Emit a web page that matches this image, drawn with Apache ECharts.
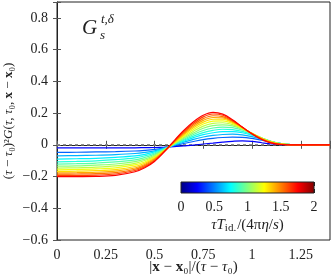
<!DOCTYPE html>
<html><head><meta charset="utf-8">
<script src="https://cdn.jsdelivr.net/npm/echarts@6/dist/echarts.min.js"></script>
<style>html,body{margin:0;padding:0;background:#fff}#c{width:332px;height:276px}</style>
</head><body><div id="c"></div>
<script>
// x positions |x-x0|/(tau-tau0)
const xs = [0, 0.1, 0.2, 0.3, 0.4, 0.45, 0.5, 0.55, 0.6, 0.65, 0.7, 0.75, 0.8, 0.85, 0.9, 0.95, 1.0, 1.05, 1.1, 1.15, 1.2, 1.4];
// tau T_id /(4 pi eta/s) for each curve
const params = [0.25, 0.45, 0.6, 0.72, 0.82, 0.92, 1.02, 1.12, 1.22, 1.32, 1.42, 1.52, 1.62, 1.75];
const curve0  = [-0.020,-0.020,-0.020,-0.019,-0.019,-0.018,-0.017,-0.015,-0.012,-0.007,-0.002,0.005,0.011,0.017,0.022,0.025,0.022,0.013,0.005,0.001,0,0];
const curve1  = [-0.048,-0.047,-0.045,-0.043,-0.039,-0.035,-0.029,-0.019,-0.006,0.008,0.021,0.033,0.041,0.046,0.048,0.047,0.040,0.029,0.016,0.006,0.001,0];
const curve2  = [-0.070,-0.068,-0.066,-0.062,-0.055,-0.048,-0.038,-0.022,-0.003,0.016,0.034,0.049,0.059,0.065,0.067,0.063,0.052,0.036,0.019,0.007,0.001,0];
const curve3  = [-0.090,-0.088,-0.085,-0.079,-0.070,-0.060,-0.045,-0.024,0.000,0.023,0.045,0.064,0.076,0.083,0.083,0.076,0.061,0.040,0.021,0.007,0.001,0];
const curve4  = [-0.107,-0.105,-0.101,-0.094,-0.083,-0.070,-0.052,-0.026,0.002,0.029,0.055,0.077,0.091,0.098,0.096,0.085,0.066,0.042,0.021,0.007,0.001,0];
const curve5  = [-0.122,-0.119,-0.115,-0.108,-0.095,-0.080,-0.059,-0.029,0.004,0.035,0.065,0.090,0.106,0.112,0.108,0.093,0.069,0.043,0.021,0.007,0.001,0];
const curve6  = [-0.135,-0.133,-0.128,-0.121,-0.106,-0.090,-0.066,-0.031,0.006,0.041,0.075,0.104,0.121,0.126,0.119,0.098,0.071,0.043,0.020,0.006,0.001,0];
const curve7  = [-0.147,-0.145,-0.141,-0.133,-0.117,-0.099,-0.073,-0.034,0.008,0.048,0.086,0.118,0.135,0.139,0.127,0.102,0.072,0.042,0.019,0.006,0.001,0];
const curve8  = [-0.158,-0.156,-0.152,-0.145,-0.127,-0.108,-0.079,-0.036,0.010,0.055,0.097,0.131,0.149,0.151,0.135,0.105,0.072,0.041,0.018,0.005,0.001,0];
const curve9  = [-0.168,-0.166,-0.163,-0.156,-0.137,-0.116,-0.085,-0.038,0.013,0.062,0.107,0.143,0.161,0.161,0.141,0.107,0.072,0.040,0.016,0.004,0.001,0];
const curve10 = [-0.177,-0.176,-0.173,-0.166,-0.146,-0.124,-0.090,-0.040,0.016,0.069,0.117,0.154,0.172,0.170,0.146,0.109,0.071,0.038,0.015,0.004,0,0];
const curve11 = [-0.185,-0.184,-0.182,-0.175,-0.154,-0.131,-0.095,-0.041,0.019,0.076,0.126,0.165,0.183,0.178,0.150,0.110,0.070,0.036,0.013,0.003,0,0];
const curve12 = [-0.193,-0.193,-0.191,-0.184,-0.162,-0.138,-0.100,-0.043,0.022,0.083,0.136,0.176,0.194,0.186,0.154,0.111,0.069,0.035,0.012,0.002,0,0];
const curve13 = [-0.200,-0.200,-0.199,-0.193,-0.170,-0.145,-0.105,-0.045,0.025,0.090,0.145,0.186,0.204,0.193,0.158,0.112,0.068,0.033,0.011,0.002,0,0];
const curves = [curve0,curve1,curve2,curve3,curve4,curve5,curve6,curve7,curve8,curve9,curve10,curve11,curve12,curve13];
const xTicks = [0, 0.25, 0.5, 0.75, 1, 1.25];
const yTicks = [-0.6, -0.4, -0.2, 0, 0.2, 0.4, 0.6, 0.8];
const cbTicks = [0, 0.5, 1, 1.5, 2];

function jet(t){
  const c = v => Math.max(0, Math.min(1, v));
  const r = c(1.5 - Math.abs(4*t - 3)), g = c(1.5 - Math.abs(4*t - 2)), b = c(1.5 - Math.abs(4*t - 1));
  return 'rgb(' + Math.round(r*255) + ',' + Math.round(g*255) + ',' + Math.round(b*255) + ')';
}
const FONT = 'Liberation Serif';
const near = (v, arr) => arr.some(t => Math.abs(t - v) < 1e-6);
const fmt = v => { const a = parseFloat(Math.abs(v).toFixed(2)); return (v < -1e-9 ? '\u2212' : '') + a; };

const chart = echarts.init(document.getElementById('c'), null, {renderer: 'canvas'});
const axisCol = '#222';
const tickStyle = {show: true, inside: true, length: 4, lineStyle: {color: '#555', width: 1}};
const series = [];
series.push({type: 'line', xAxisIndex: 0, yAxisIndex: 0, data: [[0, 0], [1.4, 0]], showSymbol: false, silent: true,
  lineStyle: {color: '#8a8a8a', width: 1.5, type: [3, 3]}, z: 1});
curves.forEach((cv, i) => {
  series.push({type: 'line', xAxisIndex: 0, yAxisIndex: 0, data: xs.map((x, j) => [x, cv[j]]), smooth: 0.35,
    showSymbol: false, silent: true, lineStyle: {color: jet(params[i] / 2), width: 1.2}, z: 2 + i});
});
series.push({type: 'line', xAxisIndex: 2, yAxisIndex: 2, data: [], showSymbol: false});

const stops = [0, 0.125, 0.375, 0.625, 0.875, 1].map(o => ({offset: o, color: jet(o)}));
const P = {fontFamily: FONT, fontSize: 15, color: '#222'};
const P13 = {fontFamily: FONT, fontSize: 13, color: '#222'};

chart.setOption({
  animation: false,
  backgroundColor: '#fff',
  grid: [
    {left: 57, right: 2, top: 2, bottom: 36, show: true, borderColor: axisCol, borderWidth: 1, backgroundColor: 'transparent', outerBoundsMode: 'none', containLabel: false},
    {left: 181, top: 182, width: 133, height: 11, show: true, borderColor: axisCol, borderWidth: 1, outerBoundsMode: 'none', containLabel: false,
      backgroundColor: new echarts.graphic.LinearGradient(0, 0, 1, 0, stops), z: 20}
  ],
  xAxis: [
    {type: 'value', gridIndex: 0, min: 0, max: 1.4, interval: 0.25, position: 'bottom', nameMoveOverlap: false,
      axisLine: {show: true, lineStyle: {color: axisCol}}, axisTick: tickStyle, splitLine: {show: false},
      axisLabel: {fontFamily: FONT, fontSize: 14, color: '#222', margin: 8, formatter: v => near(v, xTicks) ? fmt(v) : ''},
      name: '{p||}{b|x}{p| \u2212 }{b|x}{p|\u2080|/(}{i|\u03c4}{p| \u2212 }{i|\u03c4}{p|\u2080)}', nameLocation: 'middle', nameGap: 20,
      nameTextStyle: {rich: {p: P, b: Object.assign({}, P, {fontWeight: 'bold'}), i: Object.assign({}, P, {fontStyle: 'italic'})}}},
    {type: 'value', gridIndex: 0, min: 0, max: 1.4, interval: 0.25, position: 'top',
      axisLine: {show: false}, axisTick: tickStyle, axisLabel: {show: false}, splitLine: {show: false}},
    {type: 'value', gridIndex: 1, min: 0, max: 2, interval: 0.5, position: 'bottom', nameMoveOverlap: false,
      axisLine: {show: false}, axisTick: {show: true, inside: true, length: 4, lineStyle: {color: '#222', width: 1}}, splitLine: {show: false},
      axisLabel: {fontFamily: FONT, fontSize: 14, color: '#222', margin: 7, formatter: v => near(v, cbTicks) ? fmt(v) : ''},
      name: '{i|\u03c4T}{s|id.}{p|/(4\u03c0}{i|\u03b7}{p|/}{i|s}{p|)}', nameLocation: 'middle', nameGap: 23,
      nameTextStyle: {rich: {p: Object.assign({}, P, {lineHeight: 18}), i: Object.assign({}, P, {fontStyle: 'italic', lineHeight: 18}), s: {fontFamily: FONT, fontSize: 11, color: '#222', padding: [7, 1, 0, 0]}}}},
    {type: 'value', gridIndex: 1, min: 0, max: 2, interval: 0.5, position: 'top',
      axisLine: {show: false}, axisTick: {show: true, inside: true, length: 4, lineStyle: {color: '#222', width: 1}}, axisLabel: {show: false}, splitLine: {show: false}}
  ],
  yAxis: [
    {type: 'value', gridIndex: 0, min: -0.6, max: 0.9, interval: 0.2, position: 'left', nameMoveOverlap: false,
      axisLine: {show: true, lineStyle: {color: axisCol}}, axisTick: tickStyle, splitLine: {show: false},
      axisLabel: {fontFamily: FONT, fontSize: 14, color: '#222', margin: 9, formatter: v => near(v, yTicks) ? fmt(v) : ''},
      name: '{p|(}{i|\u03c4}{p| \u2212 }{i|\u03c4}{p|\u2080)\u00b2}{i|G}{p|(}{i|\u03c4}{p|, }{i|\u03c4}{p|\u2080, }{b|x}{p| \u2212 }{b|x}{p|\u2080)}',
      nameLocation: 'middle', nameGap: 42,
      nameTextStyle: {rich: {p: P13, b: Object.assign({}, P13, {fontWeight: 'bold'}), i: Object.assign({}, P13, {fontStyle: 'italic'})}}},
    {type: 'value', gridIndex: 0, min: -0.6, max: 0.9, interval: 0.2, position: 'right',
      axisLine: {show: false}, axisTick: tickStyle, axisLabel: {show: false}, splitLine: {show: false}},
    {type: 'value', gridIndex: 1, min: 0, max: 1, show: false}
  ],
  graphic: [
    {type: 'text', left: 82, top: 18, style: {text: 'G', font: 'italic 21px "Liberation Serif"', fill: '#222'}},
    {type: 'text', left: 101, top: 13, style: {text: 't,\u03b4', font: 'italic 13px "Liberation Serif"', fill: '#222'}},
    {type: 'text', left: 100, top: 29, style: {text: 's', font: 'italic 13px "Liberation Serif"', fill: '#222'}}
  ],
  series: series
});
</script></body></html>
